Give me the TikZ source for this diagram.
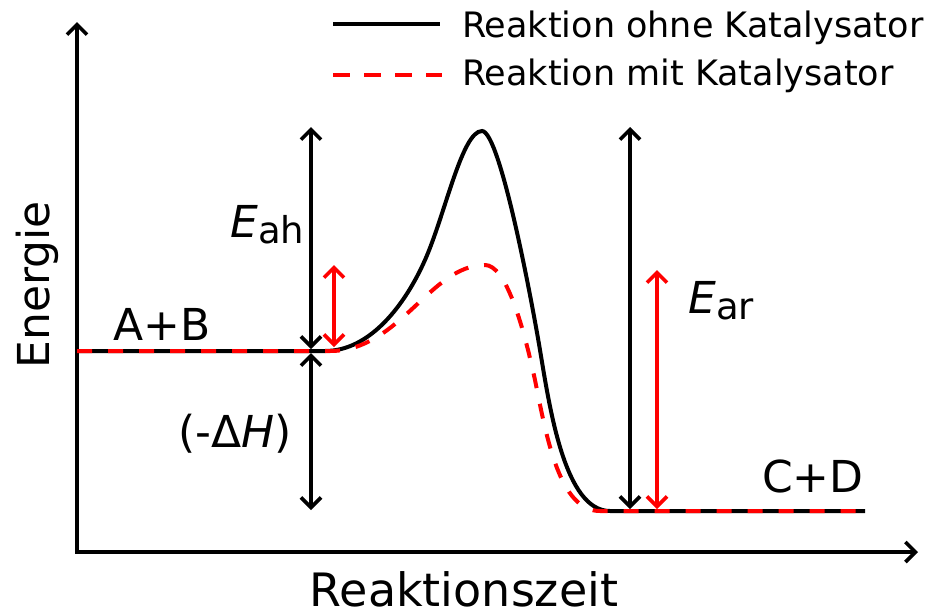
\documentclass[tikz,border=0pt]{standalone}
\usepackage{fontspec}
\setmainfont{DejaVu Sans}
\usetikzlibrary{arrows.meta}
\definecolor{kred}{RGB}{255,0,0}
\tikzset{
  tipb/.tip={Straight Barb[length=10pt,width=20pt,line width=3.6pt]},
  axisline/.style={line width=4pt, line join=miter},
  curveblack/.style={line width=4pt, black},
  curvered/.style={line width=4pt, kred, dash pattern=on 15pt off 16pt},
  legred/.style={line width=4pt, kred, dash pattern=on 17pt off 14pt},
  dimarrow/.style={line width=3.4pt, tipb-tipb},
  lbl/.style={inner sep=0pt, font=\fontsize{44}{44}\selectfont},
  leglbl/.style={inner sep=0pt, anchor=base west, font=\fontsize{35}{35}\selectfont},
}
\newcommand{\esub}[1]{\textit{E}{\fontsize{37}{37}\selectfont\raisebox{-6pt}{#1}}}
\begin{document}
\begin{tikzpicture}[x=1pt,y=-1pt]
\useasboundingbox (0,0) rectangle (930,614);
% axes
\coordinate (ytop) at (77,22);
\coordinate (xend) at (918,552);
\draw[axisline, tipb-tipb] (ytop) |- (xend);
% labels of axes
\node[lbl, rotate=90, anchor=base] (energie) at (49,285) {Energie};
\node[lbl, anchor=base, font=\fontsize{46}{46}\selectfont] (zeit) at (464,606) {Reaktionszeit};
% curves
\draw[curveblack] (77,351) -- (325,351)
  .. controls (370,351) and (405,305) .. (425,260)
  .. controls (445,215) and (462,131) .. (482,131)
  .. controls (500,131) and (532,302) .. (540,350)
  .. controls (550,410) and (565,511) .. (610,511)
  -- (865,511);
\draw[curvered] (77,351) -- (330,351)
  .. controls (400,351) and (430,265) .. (485,265)
  .. controls (505,265) and (522,320) .. (535,380)
  .. controls (547,440) and (560,511) .. (600,511)
  -- (865,511);
% dimension arrows
\coordinate (eah1) at (311,127);
\coordinate (eah2) at (311,349);
\coordinate (ecr1) at (334,265);
\coordinate (ecr2) at (334,347);
\coordinate (dh1) at (311,353);
\coordinate (dh2) at (311,510);
\coordinate (ear1) at (630,127);
\coordinate (ear2) at (630,509);
\coordinate (erc1) at (657,270);
\coordinate (erc2) at (657,509);
\draw[dimarrow] (eah1) -- (eah2);
\draw[dimarrow, kred] (ecr1) -- (ecr2);
\draw[dimarrow] (dh1) -- (dh2);
\draw[dimarrow] (ear1) -- (ear2);
\draw[dimarrow, kred] (erc1) -- (erc2);
% labels
\node[lbl, anchor=base west] (ab) at (113,340) {A+B};
\node[lbl, anchor=base west] (cd) at (762,492) {C+D};
\node[lbl, anchor=base west] (eahl) at (230,237) {\esub{ah}};
\node[lbl, anchor=base west] (earl) at (688,313) {\esub{ar}};
\node[lbl, anchor=base west] (dhl) at (178,447) {(-Δ\textit{H})};
% legend
\coordinate (l1a) at (333,24);
\coordinate (l1b) at (440,24);
\coordinate (l2a) at (333,75);
\coordinate (l2b) at (442,75);
\draw[curveblack] (l1a) -- (l1b);
\draw[legred] (l2a) -- (l2b);
\node[leglbl] (leg1) at (462,37) {Reaktion ohne Katalysator};
\node[leglbl] (leg2) at (462,85) {Reaktion mit Katalysator};
\end{tikzpicture}
\end{document}
